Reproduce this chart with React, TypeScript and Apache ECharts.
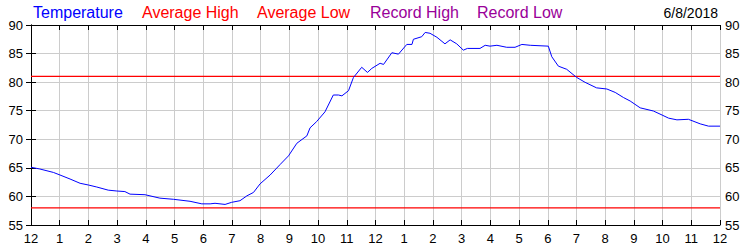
import React, { useEffect, useRef } from "react";
import * as echarts from "echarts";

// Temperature readings: [hour of day, °F]
const tempHours = [
  0, 0.31, 0.78, 1.01, 1.36, 1.71, 2.0, 2.29, 2.69, 2.99, 3.27, 3.45, 3.97, 4.49, 4.96, 5.54, 5.95,
  6.24, 6.41, 6.76, 6.99, 7.28, 7.52, 7.75, 7.98, 8.33, 8.68, 8.97, 9.26, 9.61, 9.72, 9.95, 10.24,
  10.53, 10.71, 10.83, 11.06, 11.23, 11.52, 11.72, 11.87, 12.16, 12.28, 12.57, 12.8, 13.09, 13.27,
  13.32, 13.61, 13.73, 13.9, 14.14, 14.42, 14.6, 14.83, 15.06, 15.2, 15.64, 15.82, 15.99, 16.23,
  16.57, 16.86, 17.1, 17.39, 18.02, 18.14, 18.37, 18.66, 19.0, 19.3, 19.7, 20.06, 20.35, 20.64,
  20.87, 21.22, 21.68, 21.98, 22.21, 22.5, 22.9, 23.31, 23.6, 24.0,
];
const tempValues = [
  65.1, 64.8, 64.2, 63.75, 63.05, 62.3, 62.0, 61.65, 61.1, 60.95, 60.85, 60.4, 60.3, 59.7, 59.5, 59.15, 58.7,
  58.7, 58.8, 58.6, 58.97, 59.25, 60.1, 60.7, 62.2, 63.75, 65.6, 67.1, 69.3, 70.6, 72.0, 73.1, 74.8,
  77.75, 77.75, 77.6, 78.5, 80.8, 82.6, 81.7, 82.4, 83.3, 83.1, 85.15, 84.9, 86.6, 86.6,
  87.5, 87.95, 88.7, 88.55, 87.85, 86.7, 87.4, 86.7, 85.6, 85.9, 85.9, 86.45, 86.3, 86.45,
  86.1, 86.1, 86.6, 86.45, 86.3, 84.45, 82.8, 82.25, 80.85, 79.97, 79.0, 78.8, 78.2, 77.3,
  76.7, 75.5, 74.95, 74.25, 73.7, 73.4, 73.5, 72.7, 72.3, 72.3,
];
const averageHigh = 81;
const averageLow = 58;
const legendNames = ["Temperature", "Average High", "Average Low", "Record High", "Record Low"];
const legendColors = ["#0000ff", "#ff0000", "#ff0000", "#990099", "#990099"];
const legendX = [33, 142, 257, 370, 477];
const dateLabel = "6/8/2018";

export default function App() {
  const ref = useRef<HTMLDivElement>(null);
  useEffect(() => {
    if (!ref.current) return;
    const chart = echarts.init(ref.current, null, { renderer: "svg" });
    const font = "'Liberation Sans', Arial, sans-serif";
    const xLabel = (v: number) => String(v % 12 === 0 ? 12 : v % 12);
    const axisLine = { show: true, lineStyle: { color: "#000", width: 1 } };
    const tick = { show: true, inside: true, length: 5, lineStyle: { color: "#000" } };
    chart.setOption({
      animation: false,
      backgroundColor: "#fff",
      textStyle: { fontFamily: font },
      grid: { left: 31, right: 30, top: 25, bottom: 25, containLabel: false },
      xAxis: [
        {
          type: "value", min: 0, max: 24, interval: 1, position: "bottom",
          axisLine, axisTick: tick,
          axisLabel: { formatter: xLabel, color: "#000", fontSize: 13, margin: 7, fontFamily: font },
          splitLine: { show: true, lineStyle: { color: "#cccccc", width: 1 } },
        },
        {
          type: "value", min: 0, max: 24, interval: 1, position: "top",
          axisLine, axisTick: tick, axisLabel: { show: false }, splitLine: { show: false },
        },
      ],
      yAxis: [
        {
          type: "value", min: 55, max: 90, interval: 5, position: "left",
          axisLine, axisTick: tick,
          axisLabel: { color: "#000", fontSize: 13, margin: 8, fontFamily: font },
          splitLine: { show: true, lineStyle: { color: "#cccccc", width: 1 } },
        },
        {
          type: "value", min: 55, max: 90, interval: 5, position: "right",
          axisLine, axisTick: tick,
          axisLabel: { color: "#000", fontSize: 13, margin: 5, fontFamily: font },
          splitLine: { show: false },
        },
      ],
      graphic: [
        ...legendNames.map((n, i) => ({
          type: "text", left: legendX[i], top: 4,
          style: { text: n, fill: legendColors[i], font: `16px ${font}` },
        })),
        {
          type: "text", right: 32, top: 6,
          style: { text: dateLabel, fill: "#000", font: `14px ${font}` },
        },
      ],
      series: [
        {
          name: "Average High", type: "line", symbol: "none",
          data: [[0, averageHigh], [24, averageHigh]],
          lineStyle: { color: "#ff0000", width: 1.2 }, z: 2,
        },
        {
          name: "Average Low", type: "line", symbol: "none",
          data: [[0, averageLow], [24, averageLow]],
          lineStyle: { color: "#ff0000", width: 1.2 }, z: 2,
        },
        {
          name: "Temperature", type: "line", symbol: "none",
          data: tempHours.map((h, i) => [h, tempValues[i]]),
          lineStyle: { color: "#0000ff", width: 1 }, z: 3,
        },
      ],
    });
    return () => chart.dispose();
  }, []);
  return (
    <div
      ref={ref}
      style={{ position: "fixed", left: 0, top: 0, width: 750, height: 250, background: "#fff" }}
    />
  );
}
